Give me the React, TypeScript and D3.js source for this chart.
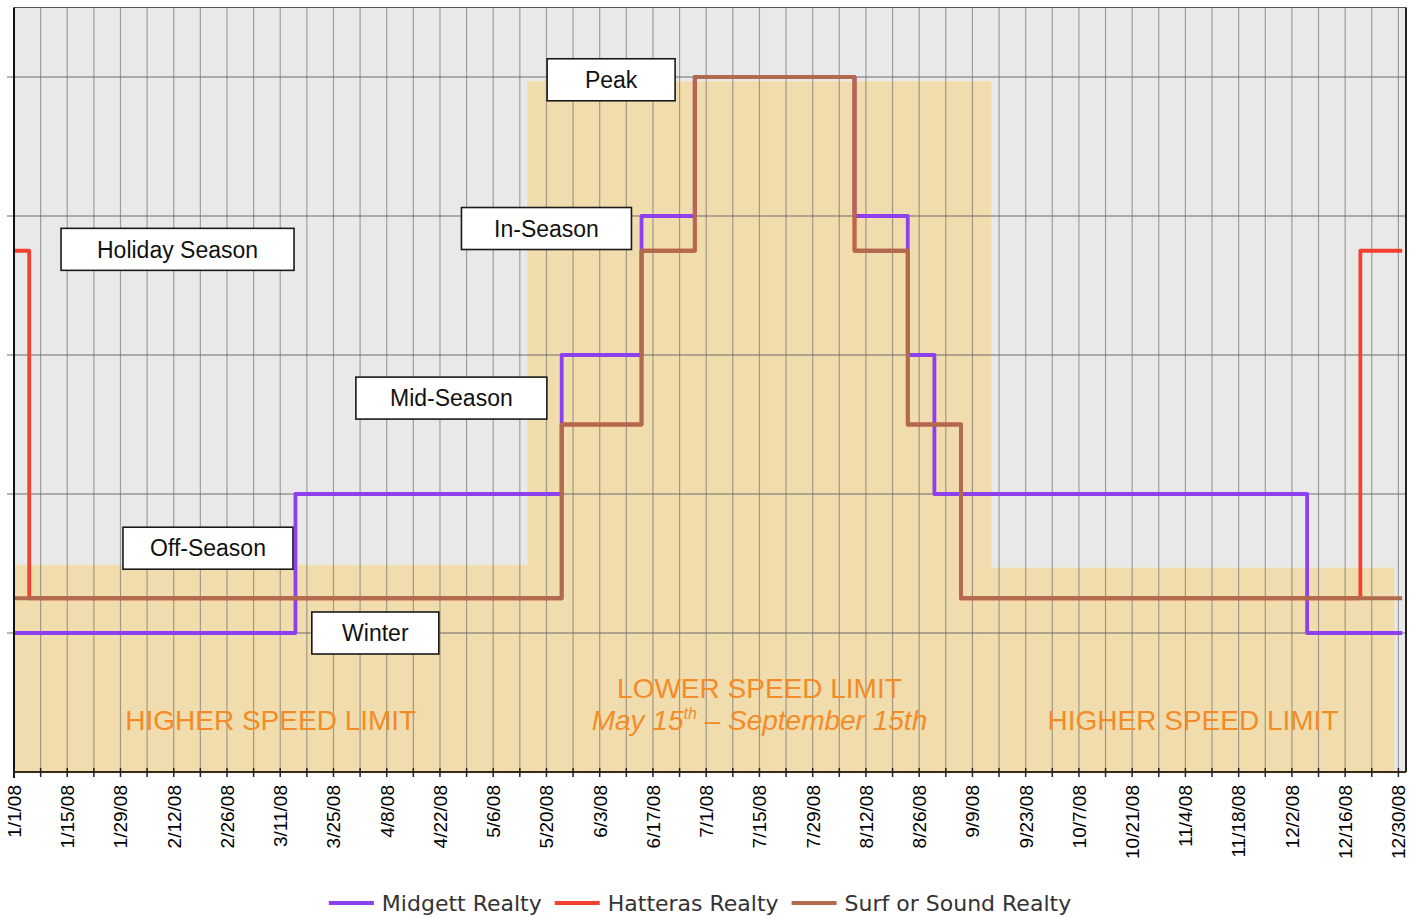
import React, { useEffect, useRef } from 'react'
import * as d3 from 'd3'

const parse = d3.timeParse('%Y-%m-%d')

// weekly rate level, each entry = date the level starts
const midgett = [
     { date: '2008-01-01', level: 1 },
     { date: '2008-03-15', level: 2 },
     { date: '2008-05-24', level: 3 },
     { date: '2008-06-14', level: 4 },
     { date: '2008-06-28', level: 5 },
     { date: '2008-08-09', level: 4 },
     { date: '2008-08-23', level: 3 },
     { date: '2008-08-30', level: 2 },
     { date: '2008-12-06', level: 1 },
     { date: '2008-12-31', level: 1 },
]

const hatteras = [
     { date: '2008-01-01', level: 3.75 },
     { date: '2008-01-05', level: 1.25 },
     { date: '2008-05-24', level: 2.5 },
     { date: '2008-06-14', level: 3.75 },
     { date: '2008-06-28', level: 5 },
     { date: '2008-08-09', level: 3.75 },
     { date: '2008-08-23', level: 2.5 },
     { date: '2008-09-06', level: 1.25 },
     { date: '2008-12-20', level: 3.75 },
     { date: '2008-12-31', level: 3.75 },
]

const surfOrSound = [
     { date: '2008-01-01', level: 1.25 },
     { date: '2008-05-24', level: 2.5 },
     { date: '2008-06-14', level: 3.75 },
     { date: '2008-06-28', level: 5 },
     { date: '2008-08-09', level: 3.75 },
     { date: '2008-08-23', level: 2.5 },
     { date: '2008-09-06', level: 1.25 },
     { date: '2008-12-31', level: 1.25 },
]

const seriesNames = ['Midgett Realty', 'Hatteras Realty', 'Surf or Sound Realty']
const seriesColors = ['#8d40ee', '#f4412f', '#b06b4f']

// speed limit zones (shaded)
const zones = [
     { start: '2008-01-01', end: '2008-05-15', top: 1.49, label: 'HIGHER SPEED LIMIT', sub: '' },
     { start: '2008-05-15', end: '2008-09-14', top: 4.97, label: 'LOWER SPEED LIMIT', sub: 'May 15|th| – September 15th' },
     { start: '2008-09-14', end: '2008-12-29', top: 1.47, label: 'HIGHER SPEED LIMIT', sub: '' },
]

// boxed season labels, anchored at date / level
const seasonLabels = [
     { text: 'Holiday Season', date: '2008-02-13', level: 3.76, w: 233 },
     { text: 'Peak', date: '2008-06-06', level: 4.98, w: 128 },
     { text: 'In-Season', date: '2008-05-20', level: 3.91, w: 170 },
     { text: 'Mid-Season', date: '2008-04-25', level: 2.69, w: 191 },
     { text: 'Off-Season', date: '2008-02-21', level: 1.61, w: 170 },
     { text: 'Winter', date: '2008-04-05', level: 1.0, w: 127 },
]

const yGridLevels = [1, 2, 3, 4, 5]

const App = () => {
     const svgRef = useRef<SVGSVGElement>(null)

     useEffect(() => {
          document.body.style.margin = '0'
          const width = 1412
          const height = 918
          const left = 14,
               right = 1406,
               top = 7.5,
               bottom = 772

          const svg = d3.select(svgRef.current)
          svg.selectAll('*').remove()

          const x = d3
               .scaleTime()
               .domain([parse('2008-01-01') as Date, parse('2009-01-01') as Date])
               .range([left, right])
          const y = d3.scaleLinear().domain([0, 5.5]).range([bottom, top])

          const armFont = '"Liberation Sans", Arial, sans-serif'

          svg.append('rect')
               .attr('x', left)
               .attr('y', top)
               .attr('width', right - left)
               .attr('height', bottom - top)
               .attr('fill', '#e9e9e9')

          svg.append('g')
               .selectAll('rect')
               .data(zones)
               .join('rect')
               .attr('x', (d) => x(parse(d.start) as Date))
               .attr('width', (d) => x(parse(d.end) as Date) - x(parse(d.start) as Date))
               .attr('y', (d) => y(d.top))
               .attr('height', (d) => y(0) - y(d.top))
               .attr('fill', '#f1dcad')

          const weeks = d3.timeTuesday.range(parse('2008-01-01') as Date, parse('2008-12-31') as Date)

          const grid = svg.append('g')
          grid.selectAll('line.v')
               .data(weeks)
               .join('line')
               .attr('class', 'v')
               .attr('x1', (d) => x(d))
               .attr('x2', (d) => x(d))
               .attr('y1', top)
               .attr('y2', bottom)
               .attr('stroke', '#6a6a6a')
               .attr('stroke-opacity', 0.6)
               .attr('stroke-width', 1.2)
          grid.selectAll('line.h')
               .data(yGridLevels)
               .join('line')
               .attr('class', 'h')
               .attr('x1', left - 7)
               .attr('x2', right)
               .attr('y1', (d) => y(d))
               .attr('y2', (d) => y(d))
               .attr('stroke', '#6a6a6a')
               .attr('stroke-opacity', 0.65)
               .attr('stroke-width', 1.3)

          // frame
          svg.append('line')
               .attr('x1', left)
               .attr('x2', right)
               .attr('y1', top)
               .attr('y2', top)
               .attr('stroke', '#555')
               .attr('stroke-width', 1.2)
          svg.append('line')
               .attr('x1', right)
               .attr('x2', right)
               .attr('y1', top)
               .attr('y2', bottom)
               .attr('stroke', '#222')
               .attr('stroke-width', 2)

          // zone captions
          const zoneText = svg.append('g')
               .style('font-family', armFont)
               .style('font-size', '28px')
               .attr('fill', '#f28c28')
               .attr('text-anchor', 'middle')
          zones.forEach((z) => {
               const cx = (x(parse(z.start) as Date) + x(parse(z.end) as Date)) / 2
               if (z.sub) {
                    zoneText.append('text').attr('x', cx).attr('y', bottom - 74).text(z.label)
                    const parts = z.sub.split('|')
                    const t = zoneText.append('text')
                         .attr('x', cx)
                         .attr('y', bottom - 42)
                         .style('font-style', 'italic')
                    t.append('tspan').text(parts[0])
                    t.append('tspan').attr('dy', -11).style('font-size', '16px').text(parts[1])
                    t.append('tspan').attr('dy', 11).text(parts[2])
               } else {
                    zoneText.append('text').attr('x', cx).attr('y', bottom - 42).text(z.label)
               }
          })

          // series
          const line = d3
               .line<{ date: string; level: number }>()
               .x((d) => x(parse(d.date) as Date))
               .y((d) => y(d.level))
               .curve(d3.curveStepAfter)
          ;[midgett, hatteras, surfOrSound].forEach((s, i) => {
               svg.append('path')
                    .datum(s)
                    .attr('d', line)
                    .attr('fill', 'none')
                    .attr('stroke', seriesColors[i])
                    .attr('stroke-width', 3.8)
                    .attr('stroke-linejoin', 'round')
          })

          // season boxes
          const boxH = 42
          const boxes = svg.append('g')
               .selectAll('g')
               .data(seasonLabels)
               .join('g')
               .attr('transform', (d) => `translate(${x(parse(d.date) as Date)},${y(d.level)})`)
          boxes.append('rect')
               .attr('x', (d) => -d.w / 2)
               .attr('y', -boxH / 2)
               .attr('width', (d) => d.w)
               .attr('height', boxH)
               .attr('fill', '#fff')
               .attr('stroke', '#1a1a1a')
               .attr('stroke-width', 1.6)
          boxes.append('text')
               .attr('text-anchor', 'middle')
               .attr('dy', '0.36em')
               .style('font-family', armFont)
               .style('font-size', '23px')
               .attr('fill', '#111')
               .text((d) => d.text)

          // axes
          svg.append('line')
               .attr('x1', left)
               .attr('x2', left)
               .attr('y1', top)
               .attr('y2', bottom + 6)
               .attr('stroke', '#111')
               .attr('stroke-width', 2)
          svg.append('line')
               .attr('x1', left)
               .attr('x2', right)
               .attr('y1', bottom)
               .attr('y2', bottom)
               .attr('stroke', '#3a2a1a')
               .attr('stroke-width', 2)
          svg.append('g')
               .selectAll('line')
               .data(weeks)
               .join('line')
               .attr('x1', (d) => x(d))
               .attr('x2', (d) => x(d))
               .attr('y1', bottom - 4)
               .attr('y2', bottom + 5)
               .attr('stroke', '#222')
               .attr('stroke-width', 1.5)

          const fmt = d3.timeFormat('%-m/%-d/%y')
          svg.append('g')
               .selectAll('text')
               .data(weeks.filter((_, i) => i % 2 === 0))
               .join('text')
               .attr('transform', (d) => `translate(${x(d)},${bottom + 13}) rotate(-90)`)
               .attr('text-anchor', 'end')
               .attr('dy', '0.36em')
               .style('font-family', armFont)
               .style('font-size', '19px')
               .attr('fill', '#000')
               .text((d) => fmt(d))

          // legend
          const legend = svg.append('g').attr('transform', `translate(0,903)`)
          const items = legend
               .selectAll('g')
               .data(seriesNames)
               .join('g')
          items.append('line')
               .attr('x1', 0)
               .attr('x2', 45)
               .attr('stroke', (_, i) => seriesColors[i])
               .attr('stroke-width', 4)
          items.append('text')
               .attr('x', 53)
               .attr('dy', '0.35em')
               .style('font-family', '"DejaVu Sans", Verdana, sans-serif')
               .style('font-size', '22px')
               .attr('fill', '#333')
               .text((d) => d)
          const widths: number[] = []
          items.each(function () {
               widths.push((this as SVGGElement).getBBox().width)
          })
          const gap = 13
          const total = d3.sum(widths) + gap * (widths.length - 1)
          let cursor = 700 - total / 2
          items.attr('transform', (_, i) => {
               const tx = cursor
               cursor += widths[i] + gap
               return `translate(${tx},0)`
          })

          svg.attr('width', width).attr('height', height)
     }, [])

     return (
          <svg
               ref={svgRef}
               width={1412}
               height={918}
               style={{ display: 'block', background: '#fff' }}
          ></svg>
     )
}

export default App
